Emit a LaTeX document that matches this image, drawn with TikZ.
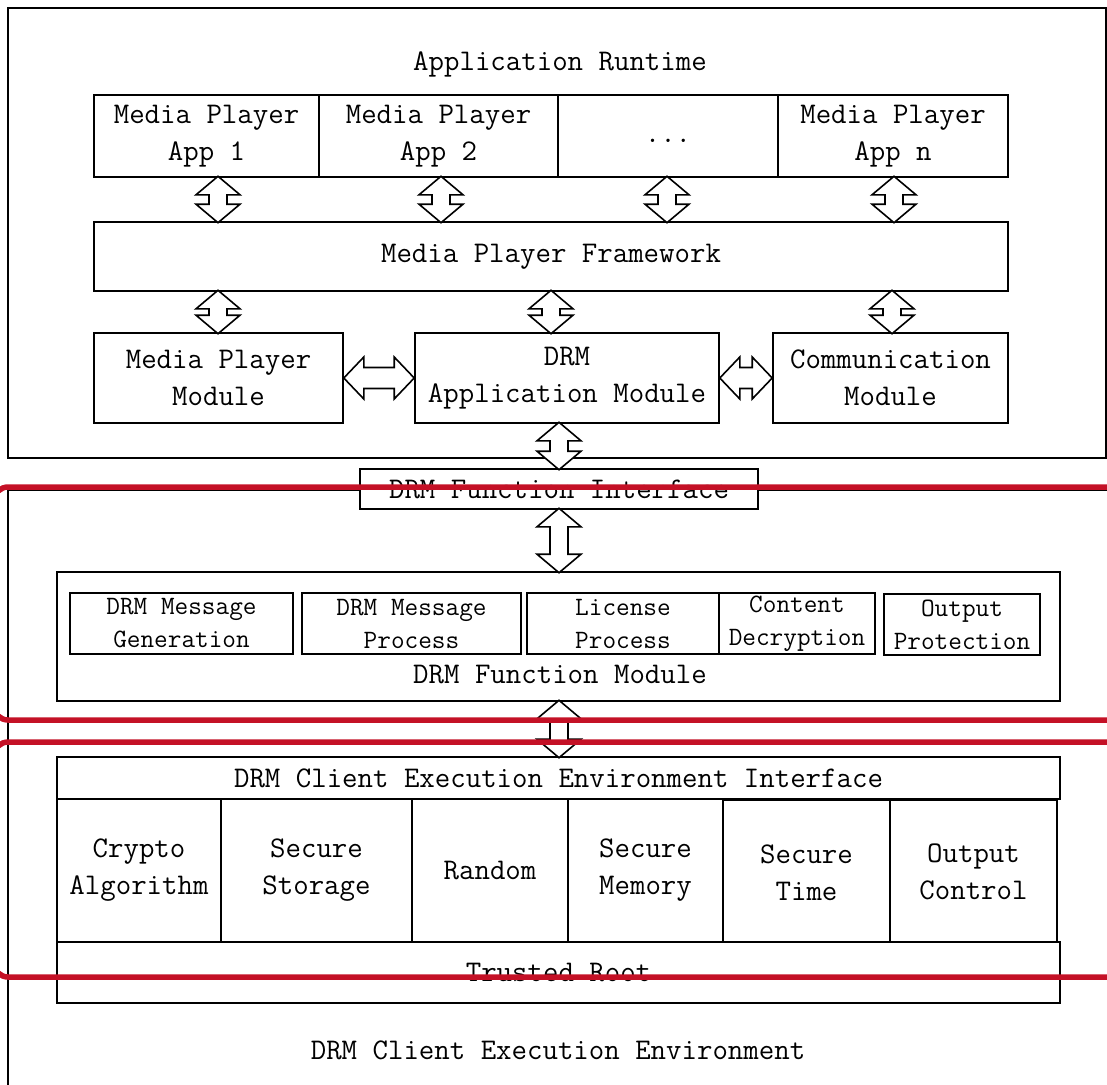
\documentclass[tikz,border=0pt]{standalone}
\usepackage{fontspec}
\usetikzlibrary{calc}
\definecolor{redmark}{RGB}{196,17,38}
\newcommand\dmain{\ttfamily\fontsize{30}{37}\selectfont}
\newcommand\dsmall{\ttfamily\fontsize{26.5}{33}\selectfont}
\newcommand\bx[7][]{\node[box,#1,minimum width={#5-#3},minimum height={#6-#4}] (#2) at ({(#3+#5)/2},{(#4+#6)/2}) {#7};}
\newcommand\varr[3]{\draw[barrow] let \p1=(#2), \p2=(#3) in (#1pt,\y1+1.5pt) -- (#1pt+22pt,\y1-17pt) -- (#1pt+9pt,\y1-17pt) -- (#1pt+9pt,\y2+17pt) -- (#1pt+22pt,\y2+17pt) -- (#1pt,\y2-1.5pt) -- (#1pt-22pt,\y2+17pt) -- (#1pt-9pt,\y2+17pt) -- (#1pt-9pt,\y1-17pt) -- (#1pt-22pt,\y1-17pt) -- cycle;}
\newcommand\harr[3]{\draw[barrow] let \p1=(#2), \p2=(#3) in (\x1,-#1pt) -- (\x1+20pt,-#1pt+21pt) -- (\x1+20pt,-#1pt+10.5pt) -- (\x2-20pt,-#1pt+10.5pt) -- (\x2-20pt,-#1pt+21pt) -- (\x2,-#1pt) -- (\x2-20pt,-#1pt-21pt) -- (\x2-20pt,-#1pt-10.5pt) -- (\x1+20pt,-#1pt-10.5pt) -- (\x1+20pt,-#1pt-21pt) -- cycle;}
\begin{document}
\begin{tikzpicture}[x=1pt,y=-1pt,
  box/.style={draw,fill=white,line width=1.6pt,inner sep=0pt,align=center,font=\dmain},
  sbox/.style={font=\dsmall},
  lbl/.style={inner sep=0pt,align=center,font=\dmain},
  barrow/.style={draw,fill=white,line width=1.6pt,line join=miter},
  redl/.style={draw=redmark,line width=5.5pt,rounded corners=14pt}]
\useasboundingbox (0,0) rectangle (1107,1084);
% Application runtime
\bx{rt}{8}{8}{1106}{458}{}
\node[lbl] (rtl) at (560,64) {Application Runtime};
\bx{a1}{94}{95}{319}{177}{Media Player\\App 1}
\bx{a2}{319}{95}{558}{177}{Media Player\\App 2}
\bx{a3}{558}{95}{778}{177}{\vphantom{Ap}...}
\bx{an}{778}{95}{1008}{177}{Media Player\\App n}
\bx{fw}{94}{222}{1008}{291}{Media Player Framework}
\bx{mpm}{94}{333}{343}{423}{Media Player\\Module}
\bx{dam}{415}{333}{719}{423}{DRM\\Application Module}
\bx{com}{773}{333}{1008}{423}{Communication\\Module}
% DRM client execution environment
\bx{cee}{8}{490}{1112}{1100}{}
\node[lbl] (ceel) at (558,1050) {DRM Client Execution Environment};
\bx{dfi}{360}{469}{758}{509}{DRM Function Interface}
\bx{dfm}{57}{572}{1060}{701}{}
\node[lbl] (dfml) at (560,675) {DRM Function Module};
\bx[sbox]{f1}{70}{593}{293}{654}{DRM Message\\Generation}
\bx[sbox]{f2}{302}{593}{521}{654}{DRM Message\\Process}
\bx[sbox]{f3}{527}{593}{719}{654}{License\\Process}
\bx[sbox]{f4}{719}{593}{875}{654}{Content\\Decryption}
\bx[sbox]{f5}{884}{594}{1040}{655}{Output\\Protection}
\bx{ceei}{57}{757}{1060}{799}{DRM Client Execution Environment Interface}
\bx{c1}{57}{799}{221}{942}{Crypto\\Algorithm}
\bx{c2}{221}{799}{412}{942}{Secure\\Storage}
\bx{c3}{412}{799}{568}{942}{Random}
\bx{c4}{568}{799}{723}{942}{Secure\\Memory}
\bx{c5}{723}{800}{890}{945}{Secure\\Time}
\bx{c6}{890}{800}{1057}{944}{Output\\Control}
\bx{tr}{57}{942}{1060}{1003}{Trusted Root}
% block arrows
\varr{218}{a1.south}{fw.north}
\varr{441}{a2.south}{fw.north}
\varr{667}{a3.south}{fw.north}
\varr{894}{an.south}{fw.north}
\varr{218}{fw.south}{mpm.north}
\varr{551}{fw.south}{dam.north}
\varr{892}{fw.south}{com.north}
\harr{378}{mpm.east}{dam.west}
\harr{378}{dam.east}{com.west}
\varr{559}{dam.south}{dfi.north}
\varr{559}{dfi.south}{dfm.north}
\varr{559}{dfm.south}{ceei.north}
% red marks
\draw[redl] (-6,487) rectangle (1130,720);
\draw[redl] (-6,742) rectangle (1130,977);
\end{tikzpicture}
\end{document}
